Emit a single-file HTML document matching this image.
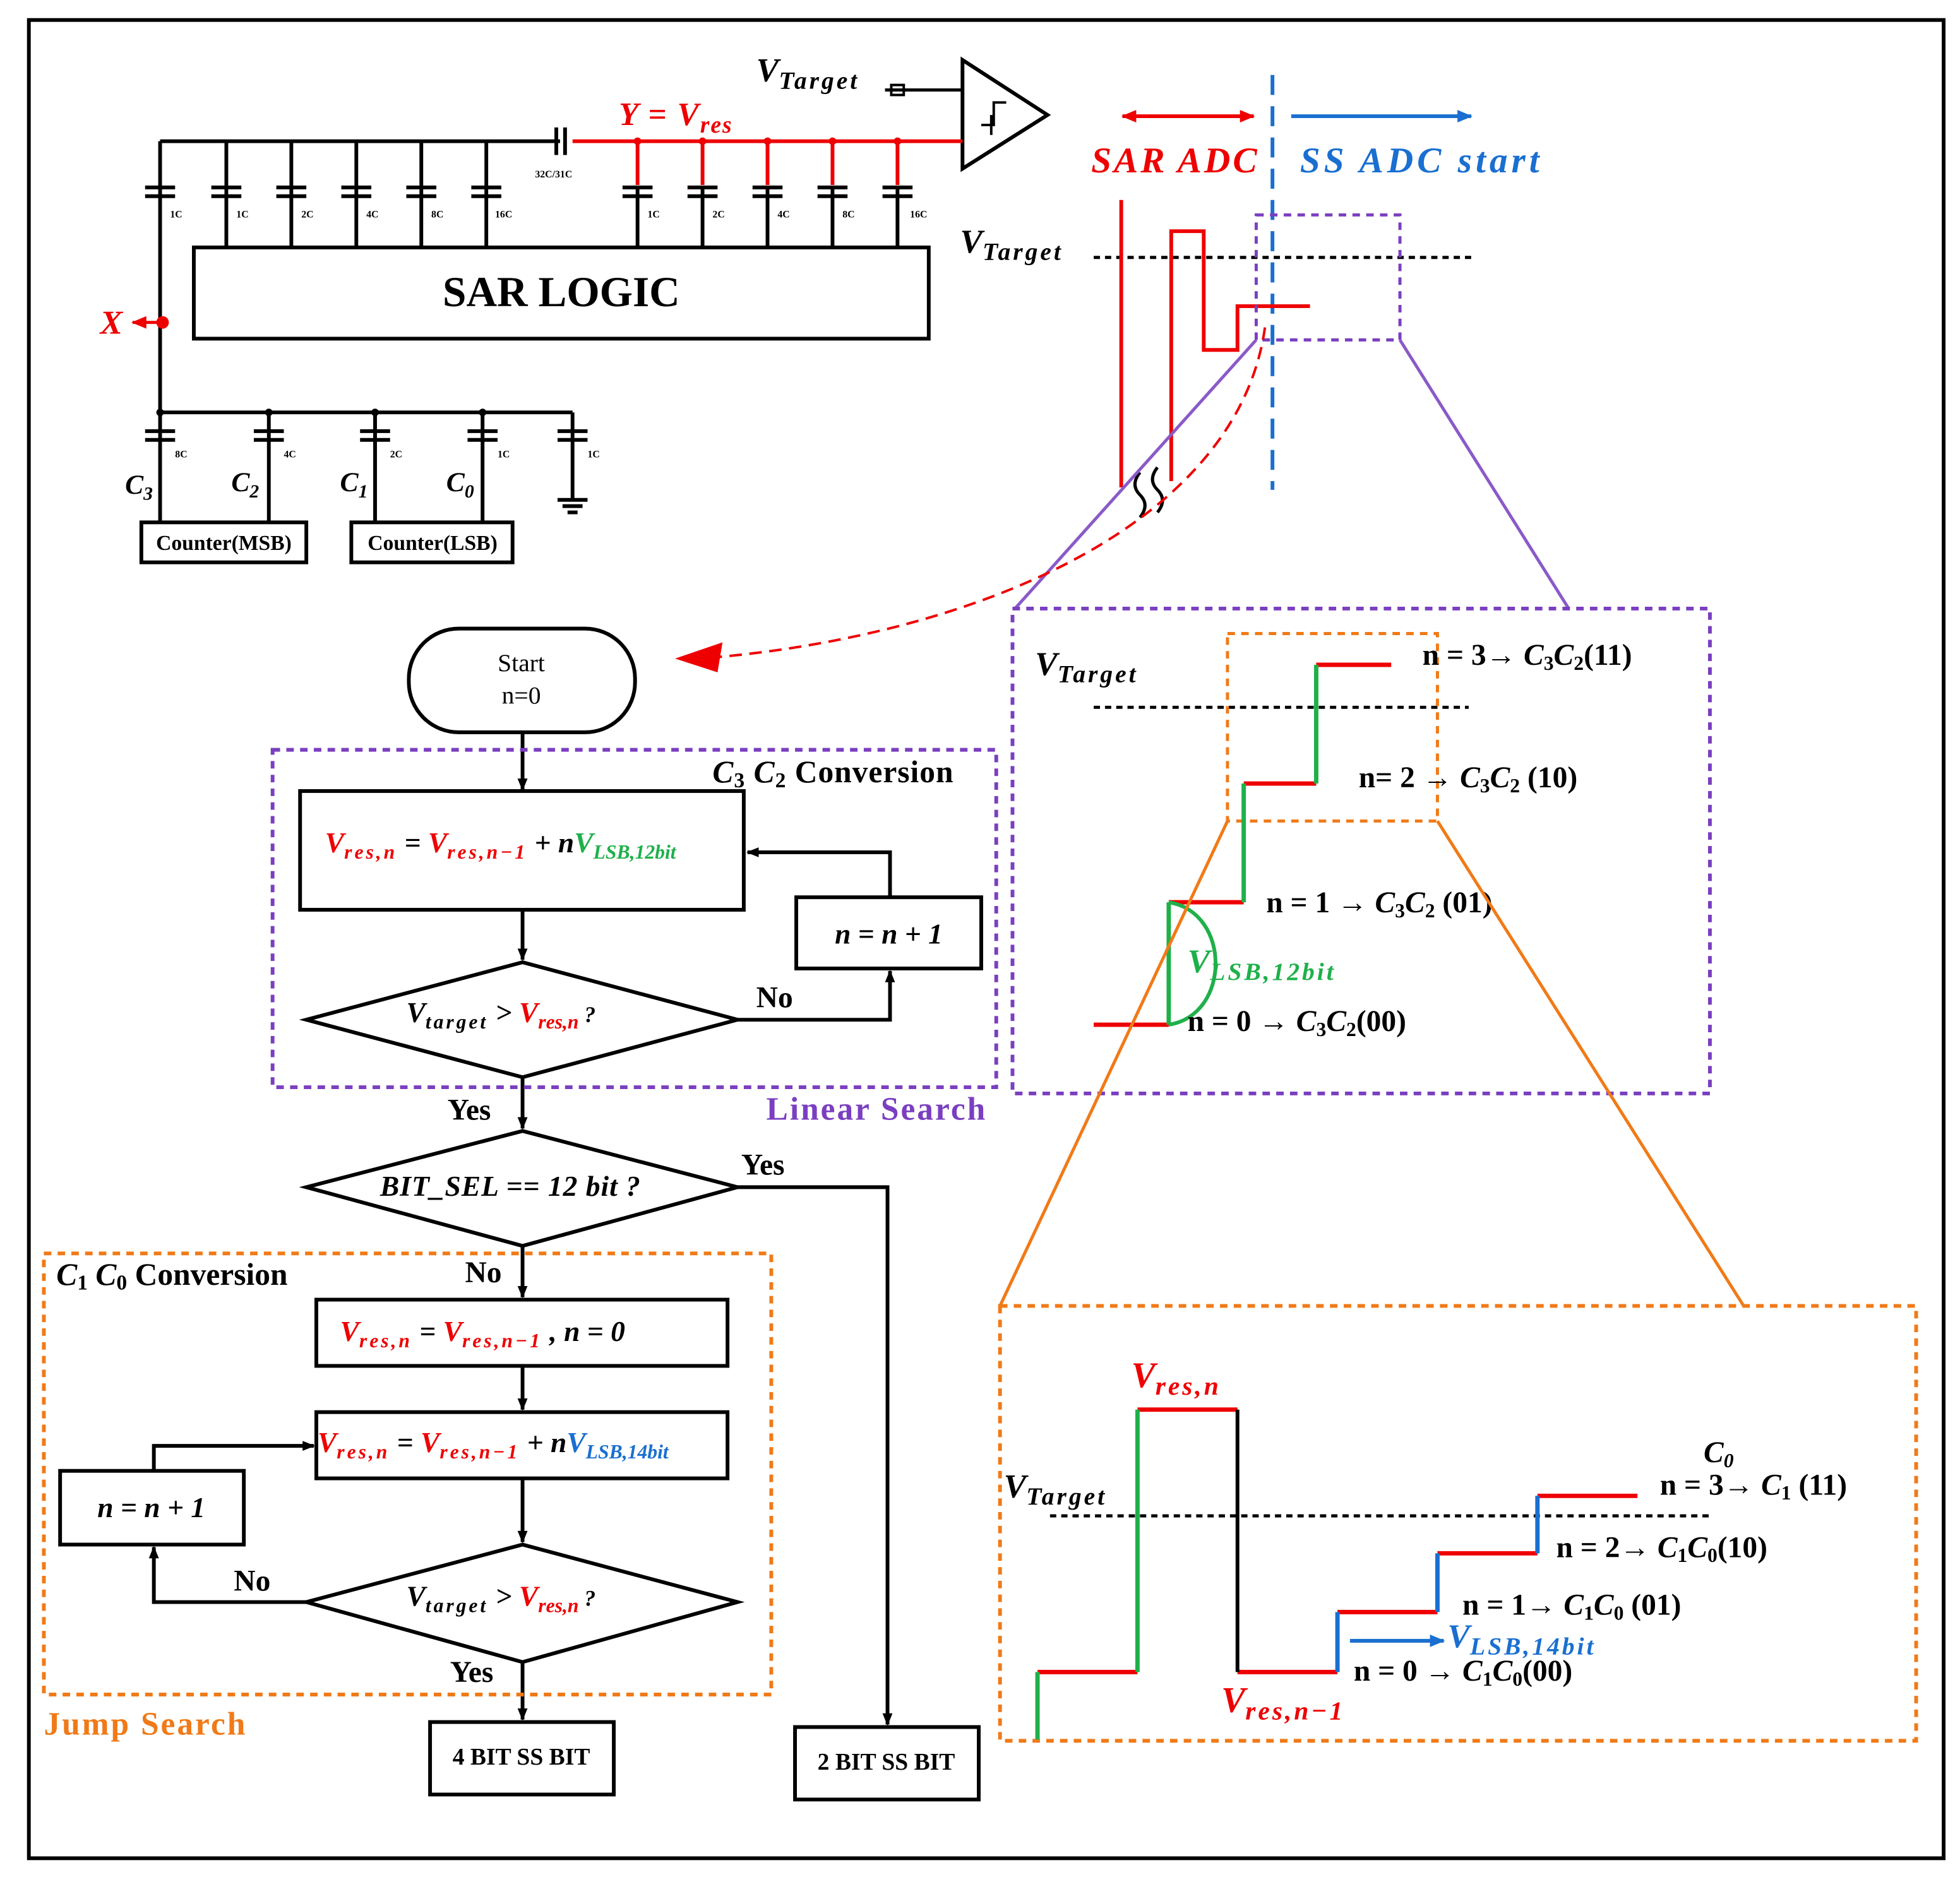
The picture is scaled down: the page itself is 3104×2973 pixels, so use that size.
<!DOCTYPE html>
<html><head><meta charset="utf-8">
<style>
html,body{margin:0;padding:0;background:#fff}
svg{display:block}
text{font-family:"Liberation Serif",serif;font-weight:bold}
.it{font-style:italic}
.tg{letter-spacing:2px}
</style></head>
<body>
<svg width="3104" height="2973" viewBox="0 0 1568 1502" xmlns="http://www.w3.org/2000/svg">
<defs>
<marker id="ab" markerWidth="10" markerHeight="10" refX="9" refY="5" orient="auto" markerUnits="userSpaceOnUse"><path d="M0,1 L10,5 L0,9 z" fill="#000"/></marker>
<marker id="ar" markerWidth="12" markerHeight="12" refX="11" refY="6" orient="auto" markerUnits="userSpaceOnUse"><path d="M0,1 L12,6 L0,11 z" fill="#e00"/></marker>
<marker id="abl" markerWidth="12" markerHeight="12" refX="11" refY="6" orient="auto" markerUnits="userSpaceOnUse"><path d="M0,1 L12,6 L0,11 z" fill="#1a6fd0"/></marker>
<marker id="arl" markerWidth="12" markerHeight="12" refX="1" refY="6" orient="auto" markerUnits="userSpaceOnUse"><path d="M12,1 L0,6 L12,11 z" fill="#e00"/></marker>
</defs>
<rect x="0" y="0" width="1568" height="1502" fill="#fff"/>
<rect x="23" y="16" width="1532" height="1471" fill="none" stroke="#000" stroke-width="3"/>

<!-- Top circuit -->
<g stroke="#000" stroke-width="3" fill="none">
<line x1="128" y1="113" x2="448" y2="113"/>
<line x1="445" y1="102" x2="445" y2="124"/><line x1="452" y1="102" x2="452" y2="124"/>
<line x1="128" y1="113" x2="128" y2="330"/>
<line x1="128" y1="330" x2="458" y2="330"/>
<rect x="155" y="198" width="588" height="73"/>
<polygon points="770,48 770,135 838,92"/>
<line x1="708" y1="72" x2="770" y2="72" stroke-width="2.5"/>
<rect x="713" y="68" width="10" height="8" stroke-width="2"/>
<path d="M785,100 L795,100 L795,82 L805,82 M793,92 L793,108" stroke-width="2"/>
</g>
<g stroke="#000" stroke-width="3">
<line x1="181" y1="113" x2="181" y2="198"/><line x1="233" y1="113" x2="233" y2="198"/>
<line x1="285" y1="113" x2="285" y2="198"/><line x1="337" y1="113" x2="337" y2="198"/>
<line x1="389" y1="113" x2="389" y2="198"/>
<line x1="510" y1="150" x2="510" y2="198"/><line x1="562" y1="150" x2="562" y2="198"/>
<line x1="614" y1="150" x2="614" y2="198"/><line x1="666" y1="150" x2="666" y2="198"/>
<line x1="718" y1="150" x2="718" y2="198"/>
</g>
<g stroke="#000" stroke-width="3" fill="#fff">
<path d="M116,150 H140 M116,157 H140 M169,150 H193 M169,157 H193 M221,150 H245 M221,157 H245 M273,150 H297 M273,157 H297 M325,150 H349 M325,157 H349 M377,150 H401 M377,157 H401"/>
<path d="M498,150 H522 M498,157 H522 M550,150 H574 M550,157 H574 M602,150 H626 M602,157 H626 M654,150 H678 M654,157 H678 M706,150 H730 M706,157 H730"/>
</g>
<g stroke="#e00" stroke-width="3" fill="none">
<line x1="458" y1="113" x2="770" y2="113"/>
<line x1="510" y1="113" x2="510" y2="148"/><line x1="562" y1="113" x2="562" y2="148"/>
<line x1="614" y1="113" x2="614" y2="148"/><line x1="666" y1="113" x2="666" y2="148"/>
<line x1="718" y1="113" x2="718" y2="148"/>
</g>
<g fill="#e00"><circle cx="510" cy="113" r="3"/><circle cx="562" cy="113" r="3"/><circle cx="614" cy="113" r="3"/><circle cx="666" cy="113" r="3"/><circle cx="718" cy="113" r="3"/></g>
<g font-size="8" fill="#000" style="font-weight:normal">
<text x="136" y="174">1C</text><text x="189" y="174">1C</text><text x="241" y="174">2C</text><text x="293" y="174">4C</text><text x="345" y="174">8C</text><text x="396" y="174">16C</text>
<text x="518" y="174">1C</text><text x="570" y="174">2C</text><text x="622" y="174">4C</text><text x="674" y="174">8C</text><text x="728" y="174">16C</text>
<text x="428" y="142">32C/31C</text>
</g>
<text x="449" y="245" font-size="34" text-anchor="middle">SAR LOGIC</text>
<text x="605" y="65" font-size="27" class="it">V<tspan font-size="20" dy="6" class="tg">Target</tspan></text>
<text x="495" y="100" font-size="26" class="it" fill="#e00" style="letter-spacing:1px">Y = V<tspan font-size="19" dy="6">res</tspan></text>
<line x1="128" y1="258" x2="106" y2="258" stroke="#e00" stroke-width="2.5" marker-end="url(#ar)"/>
<circle cx="130" cy="258" r="5" fill="#e00"/>
<text x="80" y="267" font-size="27" class="it" fill="#e00">X</text>
<g stroke="#000" stroke-width="3" fill="none">
<line x1="128" y1="330" x2="128" y2="418"/><line x1="215" y1="330" x2="215" y2="418"/>
<line x1="300" y1="330" x2="300" y2="418"/><line x1="386" y1="330" x2="386" y2="418"/>
<line x1="458" y1="330" x2="458" y2="400"/>
<path d="M116,345 H140 M116,352 H140 M203,345 H227 M203,352 H227 M288,345 H312 M288,352 H312 M374,345 H398 M374,352 H398 M446,345 H470 M446,352 H470" />
<path d="M446,400 H470 M450,405 H466 M454,410 H462"/>
<rect x="113" y="418" width="132" height="32"/>
<rect x="281" y="418" width="129" height="32"/>
</g>
<g font-size="8" style="font-weight:normal"><text x="140" y="366">8C</text><text x="227" y="366">4C</text><text x="312" y="366">2C</text><text x="398" y="366">1C</text><text x="470" y="366">1C</text></g>
<g fill="#000"><circle cx="128" cy="330" r="3"/><circle cx="215" cy="330" r="3"/><circle cx="300" cy="330" r="3"/><circle cx="386" cy="330" r="3"/></g>
<g font-size="22" class="it">
<text x="100" y="395">C<tspan font-size="15" dy="5">3</tspan></text>
<text x="185" y="393">C<tspan font-size="15" dy="5">2</tspan></text>
<text x="272" y="393">C<tspan font-size="15" dy="5">1</tspan></text>
<text x="357" y="393">C<tspan font-size="15" dy="5">0</tspan></text>
</g>
<text x="179" y="440" font-size="17" text-anchor="middle">Counter(MSB)</text>
<text x="346" y="440" font-size="17" text-anchor="middle">Counter(LSB)</text>

<!-- Top right waveform -->
<line x1="898" y1="93" x2="1003" y2="93" stroke="#e00" stroke-width="3" marker-end="url(#ar)" marker-start="url(#arl)"/>
<line x1="1033" y1="93" x2="1177" y2="93" stroke="#1a6fd0" stroke-width="3" marker-end="url(#abl)"/>
<text x="873" y="138" font-size="29" class="it" fill="#e00" style="letter-spacing:2px">SAR ADC</text>
<text x="1040" y="138" font-size="29" class="it" fill="#1a6fd0" style="letter-spacing:3px">SS ADC start</text>
<line x1="1018" y1="60" x2="1018" y2="392" stroke="#1a6fd0" stroke-width="3" stroke-dasharray="16,9"/>
<text x="768" y="202" font-size="27" class="it">V<tspan font-size="20" dy="6" class="tg">Target</tspan></text>
<line x1="875" y1="206" x2="1180" y2="206" stroke="#000" stroke-width="2.5" stroke-dasharray="5,4"/>
<path d="M897,160 V390 M937,385 V185 H963 V280 H990 V245 H1048" fill="none" stroke="#e00" stroke-width="3"/>
<path d="M912,378 q-8,10 0,18 q8,8 0,18 M926,374 q-8,10 0,18 q8,8 0,18" fill="none" stroke="#000" stroke-width="2.5"/>
<rect x="1005" y="172" width="115" height="100" fill="none" stroke="#7a3fc0" stroke-width="2.5" stroke-dasharray="6,5"/>
<line x1="1005" y1="272" x2="812" y2="487" stroke="#8a5ac8" stroke-width="2.5"/>
<line x1="1120" y1="272" x2="1255" y2="487" stroke="#8a5ac8" stroke-width="2.5"/>
<path d="M1012,262 C990,420 780,510 560,527" fill="none" stroke="#e00" stroke-width="2" stroke-dasharray="10,6"/>
<polygon points="540,527 578,514 574,538" fill="#e00"/>

<!-- Purple zoom box -->
<rect x="810" y="487" width="558" height="388" fill="none" stroke="#7a3fc0" stroke-width="3" stroke-dasharray="6,5"/>
<text x="828" y="540" font-size="27" class="it">V<tspan font-size="20" dy="6" class="tg">Target</tspan></text>
<line x1="875" y1="566" x2="1175" y2="566" stroke="#000" stroke-width="2.5" stroke-dasharray="5,4"/>
<rect x="982" y="507" width="168" height="150" fill="none" stroke="#f07a18" stroke-width="2.5" stroke-dasharray="6,5"/>
<path d="M875,820 H935 M935,722 H995 M995,627 H1053 M1053,532 H1113" stroke="#e00" stroke-width="3.5"/>
<path d="M935,820 V722 M995,722 V627 M1053,627 V532" stroke="#1fb04a" stroke-width="3.5"/>
<path d="M935,722 C985,730 985,812 935,820" fill="none" stroke="#1fb04a" stroke-width="3"/>
<g font-size="24">
<text x="1138" y="532">n = 3→ <tspan class="it">C</tspan><tspan font-size="16" dy="4">3</tspan><tspan class="it" dy="-4">C</tspan><tspan font-size="16" dy="4">2</tspan><tspan dy="-4">(11)</tspan></text>
<text x="1087" y="630">n= 2 → <tspan class="it">C</tspan><tspan font-size="16" dy="4">3</tspan><tspan class="it" dy="-4">C</tspan><tspan font-size="16" dy="4">2</tspan><tspan dy="-4"> (10)</tspan></text>
<text x="1013" y="730">n = 1 → <tspan class="it">C</tspan><tspan font-size="16" dy="4">3</tspan><tspan class="it" dy="-4">C</tspan><tspan font-size="16" dy="4">2</tspan><tspan dy="-4"> (01)</tspan></text>
<text x="950" y="825">n = 0 → <tspan class="it">C</tspan><tspan font-size="16" dy="4">3</tspan><tspan class="it" dy="-4">C</tspan><tspan font-size="16" dy="4">2</tspan><tspan dy="-4">(00)</tspan></text>
</g>
<text x="950" y="778" font-size="27" class="it" fill="#1fb04a">V<tspan font-size="20" dy="6" class="tg">LSB,12bit</tspan></text>
<line x1="982" y1="657" x2="800" y2="1045" stroke="#f07a18" stroke-width="2.5"/>
<line x1="1150" y1="657" x2="1395" y2="1045" stroke="#f07a18" stroke-width="2.5"/>

<!-- Orange zoom box -->
<rect x="800" y="1045" width="733" height="348" fill="none" stroke="#f07a18" stroke-width="3" stroke-dasharray="6,5"/>
<line x1="840" y1="1213" x2="1370" y2="1213" stroke="#000" stroke-width="2.5" stroke-dasharray="5,4"/>
<path d="M830,1338 H910 M910,1128 H990 M990,1338 H1070 M1070,1290 H1150 M1150,1243 H1230 M1230,1197 H1310" stroke="#e00" stroke-width="3.5"/>
<path d="M830,1392 V1338 M910,1338 V1128" stroke="#1fb04a" stroke-width="3.5"/>
<path d="M990,1128 V1338" stroke="#000" stroke-width="3"/>
<path d="M1070,1338 V1290 M1150,1290 V1243 M1230,1243 V1197" stroke="#1a6fd0" stroke-width="3.5"/>
<line x1="1080" y1="1313" x2="1155" y2="1313" stroke="#1a6fd0" stroke-width="3" marker-end="url(#abl)"/>
<text x="803" y="1198" font-size="27" class="it">V<tspan font-size="20" dy="6" class="tg">Target</tspan></text>
<text x="905" y="1110" font-size="29" class="it" fill="#e00">V<tspan font-size="21" dy="6" class="tg">res,n</tspan></text>
<text x="977" y="1370" font-size="29" class="it" fill="#e00">V<tspan font-size="21" dy="6" class="tg">res,n−1</tspan></text>
<text x="1158" y="1318" font-size="27" class="it" fill="#1a6fd0">V<tspan font-size="20" dy="6" class="tg">LSB,14bit</tspan></text>
<g font-size="24">
<text x="1363" y="1170" class="it">C<tspan font-size="16" dy="4">0</tspan></text>
<text x="1328" y="1196">n = 3→ <tspan class="it">C</tspan><tspan font-size="16" dy="4">1</tspan><tspan dy="-4">     (11)</tspan></text>
<text x="1245" y="1246">n = 2→ <tspan class="it">C</tspan><tspan font-size="16" dy="4">1</tspan><tspan class="it" dy="-4">C</tspan><tspan font-size="16" dy="4">0</tspan><tspan dy="-4">(10)</tspan></text>
<text x="1170" y="1292">n = 1→ <tspan class="it">C</tspan><tspan font-size="16" dy="4">1</tspan><tspan class="it" dy="-4">C</tspan><tspan font-size="16" dy="4">0</tspan><tspan dy="-4"> (01)</tspan></text>
<text x="1083" y="1345">n = 0 → <tspan class="it">C</tspan><tspan font-size="16" dy="4">1</tspan><tspan class="it" dy="-4">C</tspan><tspan font-size="16" dy="4">0</tspan><tspan dy="-4">(00)</tspan></text>
</g>

<!-- Flowchart -->
<g stroke="#000" stroke-width="3" fill="none">
<rect x="327" y="503" width="181" height="83" rx="40"/>
<line x1="418" y1="586" x2="418" y2="632" marker-end="url(#ab)"/>
<rect x="240" y="633" width="355" height="95"/>
<line x1="418" y1="728" x2="418" y2="768" marker-end="url(#ab)"/>
<polygon points="245,816 418,770 590,816 418,862"/>
<polyline points="590,816 712,816 712,777" marker-end="url(#ab)"/>
<rect x="637" y="718" width="148" height="57"/>
<polyline points="712,718 712,682 598,682" marker-end="url(#ab)"/>
<line x1="418" y1="862" x2="418" y2="903" marker-end="url(#ab)"/>
<polygon points="245,950 418,905 590,950 418,997"/>
<polyline points="590,950 710,950 710,1380" marker-end="url(#ab)"/>
<rect x="636" y="1382" width="147" height="58"/>
<line x1="418" y1="997" x2="418" y2="1038" marker-end="url(#ab)"/>
<rect x="253" y="1040" width="329" height="53"/>
<line x1="418" y1="1093" x2="418" y2="1128" marker-end="url(#ab)"/>
<rect x="253" y="1130" width="329" height="53"/>
<line x1="418" y1="1183" x2="418" y2="1234" marker-end="url(#ab)"/>
<polygon points="245,1282 418,1236 590,1282 418,1330"/>
<polyline points="245,1282 123,1282 123,1238" marker-end="url(#ab)"/>
<rect x="48" y="1177" width="147" height="59"/>
<polyline points="123,1177 123,1157 251,1157" marker-end="url(#ab)"/>
<line x1="418" y1="1330" x2="418" y2="1376" marker-end="url(#ab)"/>
<rect x="344" y="1378" width="147" height="58"/>
</g>
<rect x="218" y="600" width="579" height="270" fill="none" stroke="#7a3fc0" stroke-width="3" stroke-dasharray="6,5"/>
<rect x="35" y="1003" width="582" height="353" fill="none" stroke="#f07a18" stroke-width="3" stroke-dasharray="6,5"/>
<text x="417" y="537" font-size="20" text-anchor="middle" style="font-weight:normal">Start</text>
<text x="417" y="563" font-size="20" text-anchor="middle" style="font-weight:normal">n=0</text>
<text x="570" y="626" font-size="25" style="letter-spacing:0.5px"><tspan class="it">C</tspan><tspan font-size="17" dy="4">3</tspan><tspan class="it" dy="-4"> C</tspan><tspan font-size="17" dy="4">2</tspan><tspan dy="-4">   Conversion</tspan></text>
<text x="260" y="682" font-size="23" class="it"><tspan fill="#e00">V</tspan><tspan fill="#e00" font-size="16" dy="5" class="tg">res,n</tspan><tspan dy="-5"> = </tspan><tspan fill="#e00">V</tspan><tspan fill="#e00" font-size="16" dy="5" class="tg">res,n−1</tspan><tspan dy="-5"> + n</tspan><tspan fill="#1fb04a">V</tspan><tspan fill="#1fb04a" font-size="16" dy="5">LSB,12bit</tspan></text>
<text x="711" y="755" font-size="23" class="it" text-anchor="middle">n = n + 1</text>
<text x="325" y="818" font-size="23" class="it">V<tspan font-size="16" dy="5" class="tg">target</tspan><tspan dy="-5"> &gt; </tspan><tspan fill="#e00">V</tspan><tspan fill="#e00" font-size="16" dy="5">res,n</tspan><tspan dy="-5" font-size="18"> ?</tspan></text>
<text x="605" y="806" font-size="24">No</text>
<text x="613" y="896" font-size="26" fill="#7a3fc0" style="letter-spacing:1.5px">Linear Search</text>
<text x="358" y="896" font-size="24">Yes</text>
<text x="304" y="957" font-size="23" class="it" style="letter-spacing:0.5px">BIT_SEL == 12 bit ?</text>
<text x="593" y="940" font-size="24">Yes</text>
<text x="372" y="1026" font-size="24">No</text>
<text x="45" y="1028" font-size="25"><tspan class="it">C</tspan><tspan font-size="17" dy="4">1</tspan><tspan class="it" dy="-4"> C</tspan><tspan font-size="17" dy="4">0</tspan><tspan dy="-4"> Conversion</tspan></text>
<text x="272" y="1073" font-size="23" class="it"><tspan fill="#e00">V</tspan><tspan fill="#e00" font-size="16" dy="5" class="tg">res,n</tspan><tspan dy="-5">  = </tspan><tspan fill="#e00">V</tspan><tspan fill="#e00" font-size="16" dy="5" class="tg">res,n−1</tspan><tspan dy="-5">  ,  n = 0</tspan></text>
<text x="254" y="1162" font-size="23" class="it"><tspan fill="#e00">V</tspan><tspan fill="#e00" font-size="16" dy="5" class="tg">res,n</tspan><tspan dy="-5">  = </tspan><tspan fill="#e00">V</tspan><tspan fill="#e00" font-size="16" dy="5" class="tg">res,n−1</tspan><tspan dy="-5"> + n</tspan><tspan fill="#1a6fd0">V</tspan><tspan fill="#1a6fd0" font-size="16" dy="5">LSB,14bit</tspan></text>
<text x="121" y="1214" font-size="23" class="it" text-anchor="middle">n = n + 1</text>
<text x="187" y="1273" font-size="24">No</text>
<text x="325" y="1285" font-size="23" class="it">V<tspan font-size="16" dy="5" class="tg">target</tspan><tspan dy="-5"> &gt; </tspan><tspan fill="#e00">V</tspan><tspan fill="#e00" font-size="16" dy="5">res,n</tspan><tspan dy="-5" font-size="18"> ?</tspan></text>
<text x="360" y="1346" font-size="24">Yes</text>
<text x="35" y="1388" font-size="26" fill="#f07a18" style="letter-spacing:1.5px">Jump Search</text>
<text x="417" y="1412" font-size="19" text-anchor="middle">4 BIT SS BIT</text>
<text x="709" y="1416" font-size="19" text-anchor="middle">2 BIT SS BIT</text>
</svg>
</body></html>
